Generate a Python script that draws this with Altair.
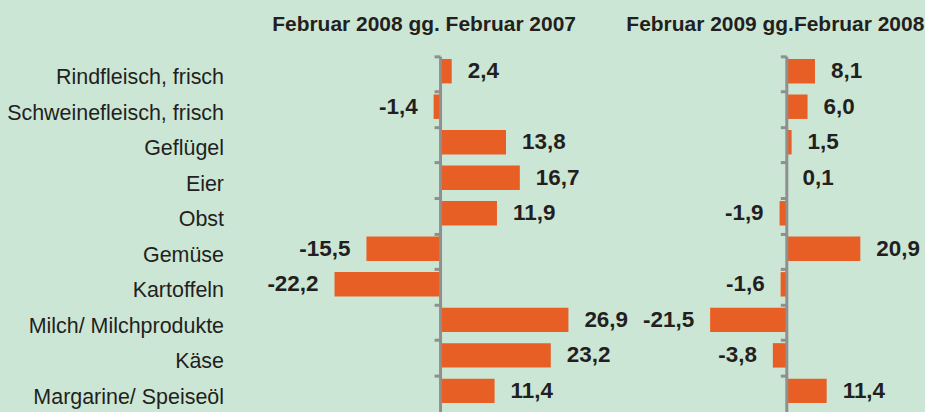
import altair as alt
import pandas as pd

categories = ["Rindfleisch, frisch", "Schweinefleisch, frisch", "Geflügel", "Eier", "Obst",
              "Gemüse", "Kartoffeln", "Milch/ Milchprodukte", "Käse", "Margarine/ Speiseöl"]
values_2008 = [2.4, -1.4, 13.8, 16.7, 11.9, -15.5, -22.2, 26.9, 23.2, 11.4]
values_2009 = [8.1, 6.0, 1.5, 0.1, -1.9, 20.9, -1.6, -21.5, -3.8, 11.4]
titles = ["Februar 2008 gg. Februar 2007", "Februar 2009 gg.Februar 2008"]

FONT = "Liberation Sans, Arial, sans-serif"
BG = "#cce6d5"
BAR = "#e85f26"
GREY = "#8f8f8f"
TXT = "#231f20"
BAR_SHIFT = -2.9


def panel(values, title, domain, width, zero_px, show_labels, title_dx):
    df = pd.DataFrame({"Kategorie": categories, "Wert": values})
    base = alt.Chart(df).transform_calculate(
        label="(datum.Wert < 0 ? '-' : '') + replace(format(abs(datum.Wert), '.1f'), '.', ',')"
    )
    y = alt.Y(
        "Kategorie:N", sort=categories,
        scale=alt.Scale(paddingInner=0, paddingOuter=0),
        axis=alt.Axis(
            title=None, orient="left", offset=-zero_px,
            domainColor=GREY, domainWidth=3, tickColor=GREY, tickWidth=3, tickSize=6,
            bandPosition=0, labels=show_labels, labelFont=FONT, labelFontSize=21.5,
            labelColor=TXT, labelPadding=211, labelOffset=4, labelLimit=400, zindex=1,
        ),
    )
    x = alt.X("Wert:Q", scale=alt.Scale(domain=domain, nice=False, zero=True), axis=None)
    bars = base.mark_bar(color=BAR, height=24.5, yOffset=BAR_SHIFT).encode(x=x, y=y)
    pos = base.transform_filter("datum.Wert >= 0").mark_text(
        align="left", dx=16, dy=BAR_SHIFT, font=FONT, fontSize=22.5, fontWeight="bold", color=TXT
    ).encode(x=x, y=y, text="label:N")
    neg = base.transform_filter("datum.Wert < 0").mark_text(
        align="right", dx=-16, dy=BAR_SHIFT, font=FONT, fontSize=22.5, fontWeight="bold", color=TXT
    ).encode(x=x, y=y, text="label:N")
    return alt.layer(bars, pos, neg).properties(
        width=width, height=356,
        title=alt.TitleParams(title, font=FONT, fontSize=21, fontWeight="bold", color=TXT,
                              anchor="middle", dx=title_dx, offset=19.5),
    )


left = panel(values_2008, titles[0], [-30, 32], 296, 143, True, -21)
right = panel(values_2009, titles[1], [-30, 30], 213, 106.5, False, -11)

chart = alt.hconcat(left, right, spacing=87.5, bounds="flush").properties(
    background=BG, padding={"left": 6, "top": 13, "right": 0, "bottom": 0}
).configure_view(stroke="transparent")

chart.save("out.html", embed_options={"renderer": "svg", "actions": False})
